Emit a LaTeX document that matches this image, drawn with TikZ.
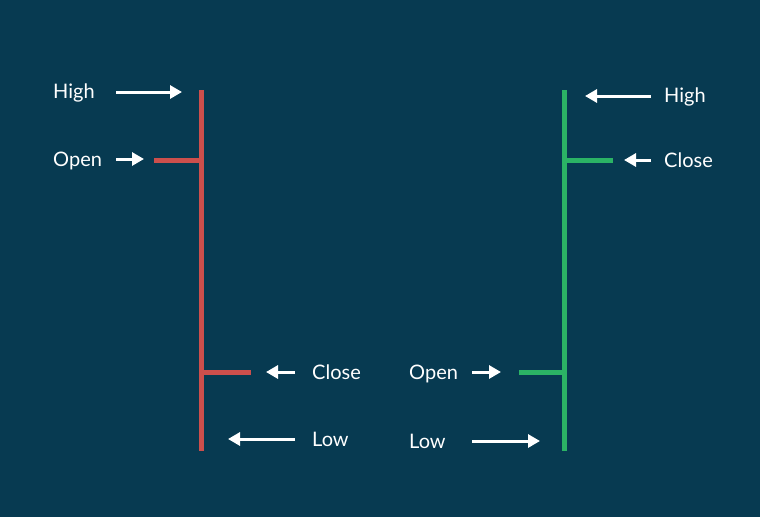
\documentclass[tikz,border=0pt]{standalone}
\usepackage{fontspec}
\setmainfont{Lato}
\usetikzlibrary{arrows.meta}
\definecolor{bg}{HTML}{073A51}
\definecolor{redc}{HTML}{CC4F4C}
\definecolor{greenc}{HTML}{2BB365}
\tikzset{
  lbl/.style={text=white,font=\fontsize{20}{24}\selectfont,inner sep=0pt,anchor=base west},
  barr/.style={draw=redc,line width=5pt},
  barg/.style={draw=greenc,line width=5pt},
  arr/.style={draw=white,line width=3pt,-{Triangle[length=12pt,width=13pt]}}
}
\begin{document}
\begin{tikzpicture}[x=1pt,y=-1pt]
\fill[bg] (0,0) rectangle (760,517);
\useasboundingbox (0,0) rectangle (760,517);
% red bar
\coordinate (rt) at (201,90); \coordinate (rb) at (201,451);
\coordinate (ro) at (154,160); \coordinate (roj) at (201,160);
\coordinate (rc) at (251,372); \coordinate (rcj) at (201,372);
\draw[barr] (rt) -- (rb);
\draw[barr] (ro) -- (roj);
\draw[barr] (rcj) -- (rc);
% green bar
\coordinate (gt) at (564,90); \coordinate (gb) at (564,451);
\coordinate (gc) at (613,160); \coordinate (gcj) at (564,160);
\coordinate (go) at (519,372); \coordinate (goj) at (564,372);
\draw[barg] (gt) -- (gb);
\draw[barg] (gcj) -- (gc);
\draw[barg] (go) -- (goj);
% labels (baselines)
\node[lbl] (h1) at (53,98) {High};
\node[lbl] (o1) at (53,166) {Open};
\node[lbl] (c1) at (312,379) {Close};
\node[lbl] (l1) at (312,446) {Low};
\node[lbl] (h2) at (664,102) {High};
\node[lbl] (c2) at (664,167) {Close};
\node[lbl] (o2) at (409,379) {Open};
\node[lbl] (l2) at (409,448) {Low};
% arrows
\coordinate (a1s) at (116,92); \coordinate (a1e) at (182,92);
\coordinate (a2s) at (116,159); \coordinate (a2e) at (144,159);
\coordinate (a3s) at (295,372); \coordinate (a3e) at (266,372);
\coordinate (a4s) at (295,439); \coordinate (a4e) at (228,439);
\coordinate (a5s) at (651,96); \coordinate (a5e) at (585,96);
\coordinate (a6s) at (651,160); \coordinate (a6e) at (624,160);
\coordinate (a7s) at (472,372); \coordinate (a7e) at (501,372);
\coordinate (a8s) at (472,441); \coordinate (a8e) at (540,441);
\foreach \i in {1,...,8} {\draw[arr] (a\i s) -- (a\i e);}
\end{tikzpicture}
\end{document}
